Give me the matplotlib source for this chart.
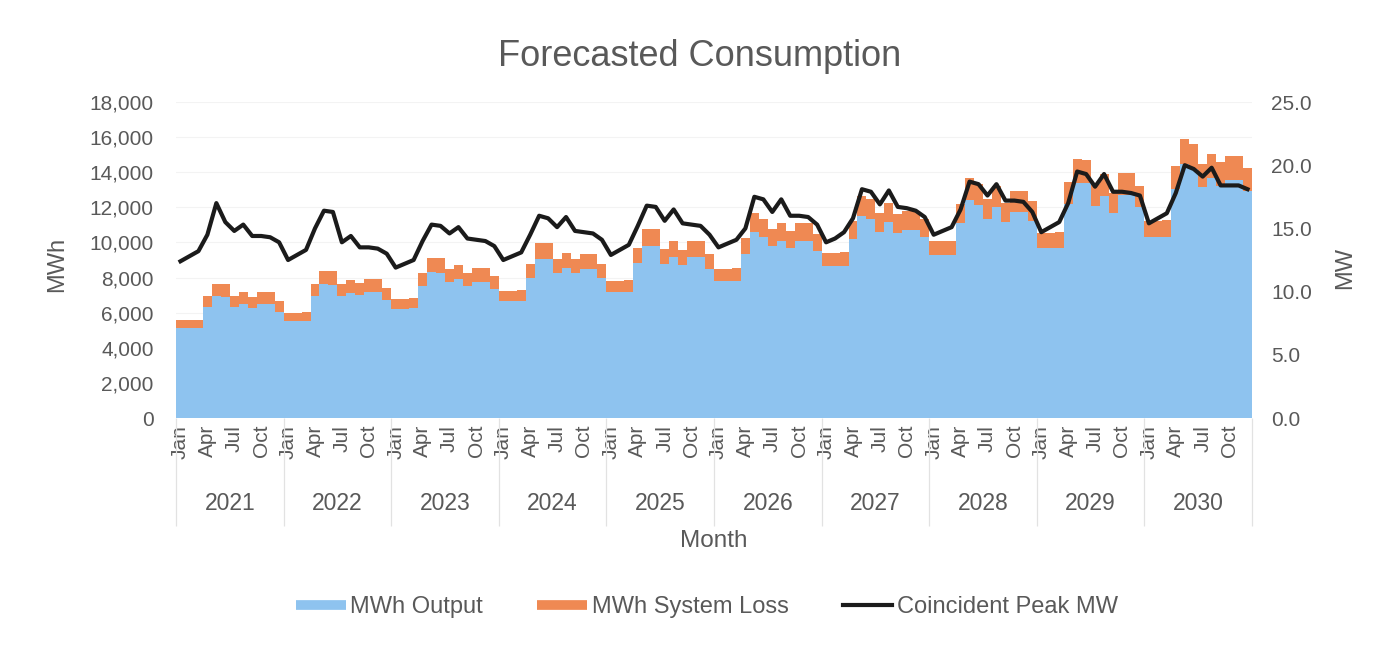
import matplotlib
matplotlib.use('Agg')
import matplotlib.pyplot as plt
import matplotlib.transforms as mtransforms
from matplotlib.lines import Line2D
from matplotlib.ticker import FuncFormatter
import numpy as np

plt.rcParams['font.family'] = ['Liberation Sans', 'DejaVu Sans']

# ---------------- data ----------------
years = [2021, 2022, 2023, 2024, 2025, 2026, 2027, 2028, 2029, 2030]
months = ['Jan', 'Feb', 'Mar', 'Apr', 'May', 'Jun',
          'Jul', 'Aug', 'Sep', 'Oct', 'Nov', 'Dec']
shown_months = ['Jan', 'Apr', 'Jul', 'Oct']

output_mwh = [
    5120, 5120, 5140, 6320, 6940, 6920, 6320, 6520, 6270, 6520, 6510, 6060,          # 2021
    5500, 5500, 5520, 6940, 7620, 7600, 6940, 7140, 6990, 7200, 7190, 6730,          # 2022
    6230, 6230, 6260, 7510, 8290, 8280, 7720, 7890, 7510, 7770, 7750, 7350,          # 2023
    6650, 6650, 6670, 7970, 9060, 9050, 8240, 8540, 8240, 8490, 8480, 7970,          # 2024
    7180, 7180, 7190, 8810, 9790, 9770, 8750, 9160, 8700, 9160, 9150, 8460,          # 2025
    7800, 7800, 7820, 9320, 10620, 10310, 9790, 10100, 9680, 10100, 10080, 9530,     # 2026
    8640, 8640, 8660, 10200, 11490, 11340, 10620, 11140, 10560, 10720, 10700, 10310, # 2027
    9260, 9260, 9280, 11080, 12430, 12120, 11340, 12010, 11140, 11760, 11740, 11240, # 2028
    9690, 9690, 9710, 12190, 13410, 13380, 12100, 12650, 11650, 12690, 12680, 12010, # 2029
    10310, 10310, 10330, 13050, 14450, 14190, 13150, 13670, 13240, 13560, 13540, 12950,  # 2030
]

loss_mwh = [
    450, 450, 450, 640, 710, 700, 640, 670, 640, 670, 660, 620,
    500, 500, 500, 710, 770, 770, 710, 730, 710, 730, 730, 690,
    560, 560, 560, 760, 840, 840, 780, 800, 760, 790, 790, 750,
    600, 600, 600, 810, 920, 920, 830, 870, 830, 860, 860, 810,
    640, 640, 650, 890, 990, 990, 890, 930, 880, 930, 920, 860,
    700, 700, 700, 940, 1070, 1040, 990, 1020, 980, 1020, 1020, 960,
    770, 770, 770, 1030, 1160, 1140, 1070, 1120, 1060, 1080, 1080, 1040,
    830, 830, 830, 1120, 1250, 1220, 1140, 1210, 1120, 1180, 1180, 1130,
    860, 860, 860, 1230, 1350, 1340, 1220, 1270, 1170, 1280, 1270, 1210,
    920, 920, 920, 1310, 1450, 1420, 1320, 1370, 1330, 1360, 1360, 1300,
]

peak_mw = [
    12.4, 12.8, 13.2, 14.5, 17.0, 15.5, 14.8, 15.3, 14.4, 14.4, 14.3, 13.9,
    12.5, 12.9, 13.3, 15.0, 16.4, 16.3, 13.9, 14.4, 13.5, 13.5, 13.4, 13.0,
    11.9, 12.2, 12.5, 14.0, 15.3, 15.2, 14.6, 15.1, 14.2, 14.1, 14.0, 13.6,
    12.5, 12.8, 13.1, 14.5, 16.0, 15.8, 15.1, 15.9, 14.8, 14.7, 14.6, 14.1,
    12.9, 13.3, 13.7, 15.2, 16.8, 16.7, 15.6, 16.5, 15.4, 15.3, 15.2, 14.5,
    13.5, 13.8, 14.1, 15.0, 17.5, 17.3, 16.3, 17.3, 16.0, 16.0, 15.9, 15.3,
    13.9, 14.2, 14.7, 15.8, 18.1, 17.9, 16.9, 18.0, 16.7, 16.6, 16.4, 15.9,
    14.5, 14.8, 15.1, 16.5, 18.7, 18.5, 17.6, 18.5, 17.2, 17.2, 17.1, 16.3,
    14.7, 15.1, 15.5, 17.0, 19.5, 19.3, 18.3, 19.3, 17.9, 17.9, 17.8, 17.6,
    15.4, 15.8, 16.2, 17.8, 20.0, 19.7, 19.1, 19.8, 18.4, 18.4, 18.4, 18.1,
]

# ---------------- style ----------------
BLUE = '#8EC3EF'
ORANGE = '#EF8953'
LINE = '#1b1b1b'
TXT = '#595959'
SEP = '#e2e2e2'

W, H = 1399, 645
fig = plt.figure(figsize=(W / 100, H / 100), dpi=100)
fig.patch.set_facecolor('white')

left_px, right_px, top_px, bot_px = 176, 1252, 102, 418
ax = fig.add_axes([left_px / W, 1 - bot_px / H,
                   (right_px - left_px) / W, (bot_px - top_px) / H])

n = len(output_mwh)
x = np.arange(n)
edges = np.arange(n + 1) - 0.5
out = np.array(output_mwh, dtype=float)
tot = out + np.array(loss_mwh, dtype=float)

ax.stairs(out, edges, baseline=0, fill=True, color=BLUE, lw=0, zorder=2)
ax.stairs(tot, edges, baseline=out, fill=True, color=ORANGE, lw=0, zorder=2)

ax.set_xlim(-0.5, n - 0.5)
ax.set_ylim(0, 18000)
ax.set_yticks(np.arange(0, 18001, 2000))
ax.yaxis.set_major_formatter(FuncFormatter(lambda v, p: f'{int(v):,}'))
ax.grid(axis='y', color='#f3f3f3', lw=0.8, zorder=0)
ax.set_axisbelow(True)

for s in ax.spines.values():
    s.set_visible(False)

# month ticks
major_pos = [i for i in range(n) if months[i % 12] in shown_months]
ax.set_xticks(major_pos)
ax.set_xticklabels([months[i % 12] for i in major_pos], rotation=90,
                   fontsize=15, color=TXT)
ax.set_xticks(np.arange(0, n + 1, 12) - 0.5, minor=True)
ax.tick_params(axis='x', which='major', length=0, pad=5)
ax.tick_params(axis='x', which='minor', length=78, color=SEP, width=0.9)
ax.tick_params(axis='y', length=0, pad=16, labelsize=15, labelcolor=TXT)

# year labels
trans = mtransforms.blended_transform_factory(ax.transData, fig.transFigure)
for k, yr in enumerate(years):
    ax.text(12 * k + 5.5, 1 - 503 / H, str(yr), transform=trans,
            ha='center', va='center', fontsize=16.5, color=TXT)

# secondary axis
ax2 = ax.twinx()
ax2.plot(x, peak_mw, color=LINE, lw=3.0, solid_joinstyle='round', zorder=3)
ax2.set_ylim(0, 25)
ax2.set_yticks(np.arange(0, 25.1, 5))
ax2.yaxis.set_major_formatter(FuncFormatter(lambda v, p: f'{v:.1f}'))
ax2.tick_params(axis='y', length=0, pad=14, labelsize=15, labelcolor=TXT)
for s in ax2.spines.values():
    s.set_visible(False)

# titles and labels
fig.text(0.5, 1 - 56 / H, 'Forecasted Consumption', ha='center', va='center',
         fontsize=26, color=TXT)
fig.text(57 / W, 1 - 264 / H, 'MWh', rotation=90, ha='center', va='center',
         fontsize=17, color=TXT)
fig.text(1345 / W, 1 - 268 / H, 'MW', rotation=90, ha='center', va='center',
         fontsize=17, color=TXT)
fig.text((left_px + right_px) / 2 / W, 1 - 541 / H, 'Month', ha='center',
         va='center', fontsize=17.5, color=TXT)

handles = [Line2D([0], [0], color=BLUE, lw=7, solid_capstyle='butt'),
           Line2D([0], [0], color=ORANGE, lw=7, solid_capstyle='butt'),
           Line2D([0], [0], color=LINE, lw=3.0)]
labels = ['MWh Output', 'MWh System Loss', 'Coincident Peak MW']
leg = fig.legend(handles, labels, loc='center', bbox_to_anchor=(707 / W, 1 - 607 / H),
                 ncol=3, frameon=False, fontsize=17, handlelength=2.1,
                 handletextpad=0.2, columnspacing=2.3)
for t in leg.get_texts():
    t.set_color(TXT)

fig.savefig('out.png', dpi=100, facecolor='white')
